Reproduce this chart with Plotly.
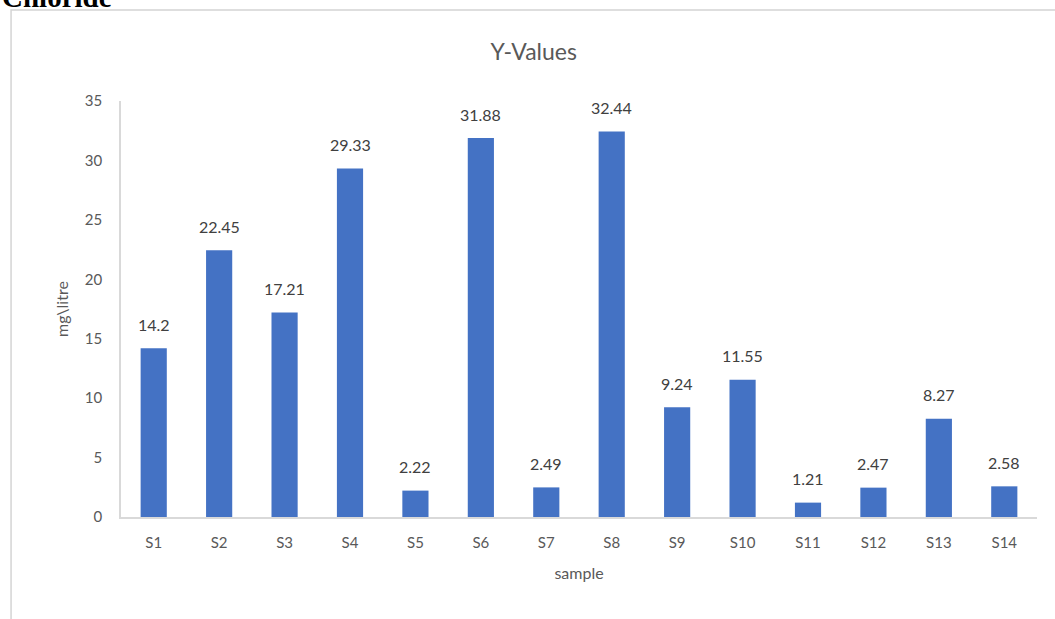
import plotly.graph_objects as go

categories = ["S1", "S2", "S3", "S4", "S5", "S6", "S7", "S8", "S9", "S10", "S11", "S12", "S13", "S14"]
values = [14.2, 22.45, 17.21, 29.33, 2.22, 31.88, 2.49, 32.44, 9.24, 11.55, 1.21, 2.47, 8.27, 2.58]
labels = ["14.2", "22.45", "17.21", "29.33", "2.22", "31.88", "2.49", "32.44", "9.24", "11.55", "1.21", "2.47", "8.27", "2.58"]
y_ticks = [0, 5, 10, 15, 20, 25, 30, 35]

W, H = 1055, 619
L, R, T, B = 121, 1037.5, 101, 517
FONT = "Lato, 'Open Sans', sans-serif"

def px(x):
    return (x - L) / (R - L)

def py(y):
    return (B - y) / (B - T)

fig = go.Figure(go.Bar(
    x=categories, y=values,
    marker=dict(color="#4472C4", line=dict(width=0)),
    hoverinfo="x+y",
))

# data labels above the bars
for c, v, t in zip(categories, values, labels):
    fig.add_annotation(x=c, y=v, text=t, showarrow=False, yanchor="middle",
                       yshift=24, font=dict(color="#404040", size=16, family=FONT))

fig.update_layout(
    width=W, height=H, autosize=False,
    margin=dict(l=L, r=W - R, t=T, b=H - B),
    paper_bgcolor="white", plot_bgcolor="white",
    bargap=0.6, showlegend=False,
    font=dict(family=FONT, color="#595959"),
    title=dict(text="Y-Values", x=px(534), xref="paper", xanchor="center",
               y=1 - 52 / H, yanchor="middle",
               font=dict(size=23, color="#595959", family=FONT)),
)
fig.update_xaxes(
    showline=True, linecolor="#d9d9d9", linewidth=1.5, showgrid=False,
    ticks="", ticklabelstandoff=11, tickfont=dict(size=15, color="#595959"),
    title=dict(text="sample", font=dict(size=16, color="#595959"), standoff=18),
)
fig.update_yaxes(
    range=[0, 35], tickvals=y_ticks, showline=True, linecolor="#d9d9d9", linewidth=1.5,
    showgrid=False, zeroline=False, ticks="", ticklabelstandoff=14,
    tickfont=dict(size=15, color="#595959"),
    title=dict(text="mg\\litre", font=dict(size=16, color="#595959"), standoff=12),
)

# chart frame
fig.add_shape(type="rect", xref="paper", yref="paper",
              x0=px(11), x1=px(1070), y0=py(640), y1=py(10),
              line=dict(color="#d4d4d4", width=1.5), fillcolor="rgba(0,0,0,0)", layer="below")

# cropped heading above the chart
fig.add_annotation(text="<b>Chloride</b>", xref="paper", yref="paper",
                   x=px(0), y=py(8), xanchor="left", yanchor="bottom",
                   showarrow=False, font=dict(family="Liberation Serif", size=29, color="black"),
                   yshift=-7)

fig.write_html("out.html", config={"displayModeBar": False},
               post_script="document.body.style.margin='0';")
